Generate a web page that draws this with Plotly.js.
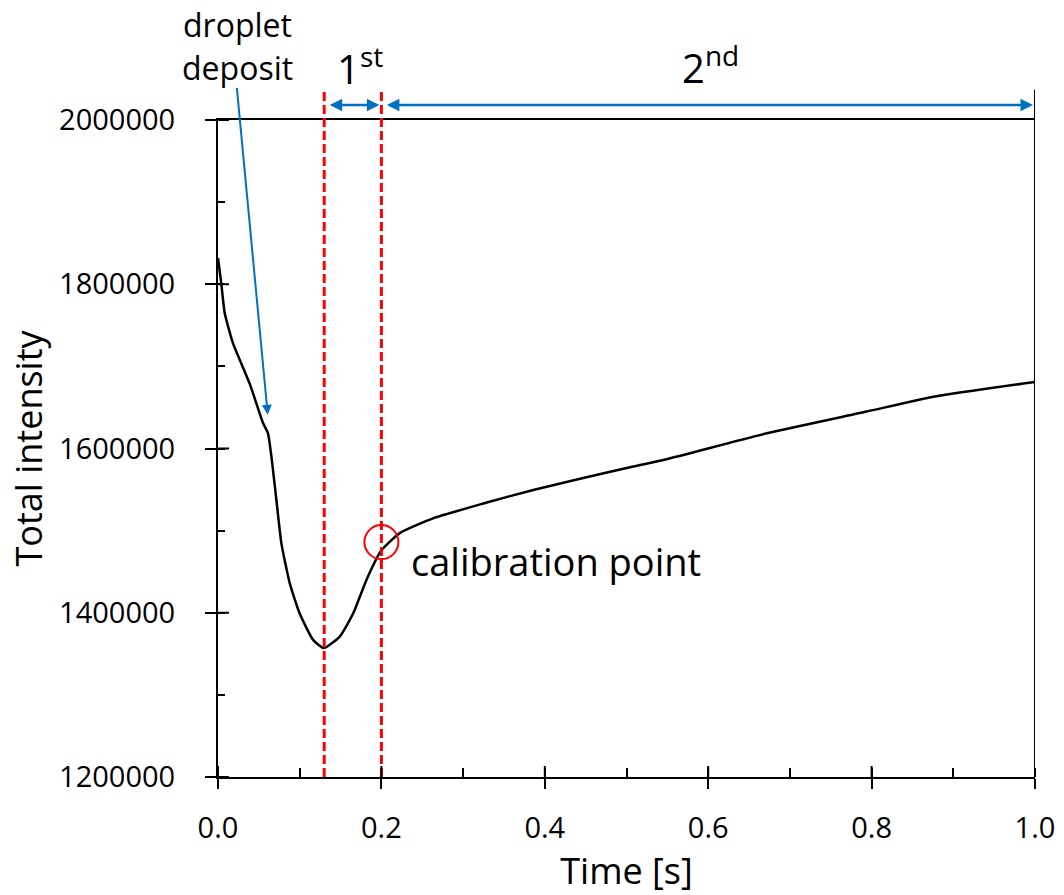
<!DOCTYPE html>
<html>
<head>
<meta charset="utf-8">
<script src="https://cdn.plot.ly/plotly-3.0.1.min.js"></script>
<style>html,body{margin:0;padding:0;background:#fff;}#chart{width:1064px;height:895px;}</style>
</head>
<body>
<div id="chart"></div>
<script>
// Data
const timeS = [0, 0.004, 0.0082, 0.0184, 0.0388, 0.0551, 0.0612, 0.0654, 0.0715, 0.0776, 0.0878, 0.1, 0.1164, 0.1295, 0.149, 0.1654, 0.1817, 0.2, 0.2225, 0.2633, 0.3246, 0.3858, 0.447, 0.5083, 0.549, 0.6716, 0.794, 0.8757, 1.0];
const totalIntensity = [1832000, 1801000, 1765000, 1728000, 1679000, 1631000, 1618500, 1590000, 1537000, 1484500, 1436000, 1399000, 1367000, 1357000, 1371000, 1399000, 1440000, 1476000, 1497000, 1515000, 1533000, 1549500, 1564000, 1578000, 1587000, 1618500, 1645000, 1663000, 1681000];
const phaseStart = 0.13;      // start of 1st phase
const calibrationT = 0.2;     // calibration point time
const calibrationV = 1486000; // calibration point intensity
const endT = 1.0;
const xTicks = [0, 0.2, 0.4, 0.6, 0.8, 1.0];
const yTicks = [1200000, 1400000, 1600000, 1800000, 2000000];

const blue = '#0070C0';
const red = '#FF0000';
const font = 'Open Sans, Calibri, Carlito, sans-serif';
const arrowYPaper = 1.0228;

const traces = [{
  x: timeS, y: totalIntensity, type: 'scatter', mode: 'lines',
  line: {color: '#000', width: 2.5, shape: 'spline', smoothing: 0.5},
  hoverinfo: 'skip', showlegend: false
}];

// inner halves of the major ticks (major ticks cross the axis line)
const innerTicks = xTicks.map(v => ({type: 'line', xref: 'x', yref: 'paper', ysizemode: 'pixel', yanchor: 0, x0: v, x1: v, y0: 0, y1: 11, line: {color: '#000', width: 2}}))
  .concat(yTicks.map(v => ({type: 'line', xref: 'paper', yref: 'y', xsizemode: 'pixel', xanchor: 0, x0: 0, x1: 11, y0: v, y1: v, line: {color: '#000', width: 2}})));

const layout = {
  width: 1064, height: 895,
  margin: {l: 218, r: 29, t: 120, b: 118},
  paper_bgcolor: '#fff', plot_bgcolor: '#fff',
  font: {family: font, color: '#000', size: 30},
  showlegend: false,
  xaxis: {
    range: [0, 1], tickvals: xTicks, tickformat: '.1f',
    showgrid: false, zeroline: false, showline: true, linecolor: '#000', linewidth: 2, mirror: true,
    ticks: 'outside', ticklen: 10, tickwidth: 2, tickcolor: '#000',
    tickfont: {size: 29, family: font}, ticklabelstandoff: 14,
    minor: {dtick: 0.1, ticks: 'inside', ticklen: 9, tickwidth: 2, tickcolor: '#000', showgrid: false},
    title: {text: 'Time [s]', font: {size: 36, family: font}, standoff: 12},
    fixedrange: true
  },
  yaxis: {
    range: [1200000, 2000000], tickvals: yTicks, tickformat: 'd',
    showgrid: false, zeroline: false, showline: true, linecolor: '#000', linewidth: 2,
    ticks: 'outside', ticklen: 11, tickwidth: 2, tickcolor: '#000',
    tickfont: {size: 29, family: font}, ticklabelstandoff: 24,
    minor: {dtick: 100000, ticks: 'inside', ticklen: 7, tickwidth: 2, tickcolor: '#000', showgrid: false},
    title: {text: 'Total intensity', font: {size: 36, family: font}, standoff: 6},
    fixedrange: true
  },
  shapes: [
    {type: 'line', xref: 'x', yref: 'paper', x0: phaseStart, x1: phaseStart, y0: 0, y1: 1.046, line: {color: red, width: 3, dash: '9px,4px'}},
    {type: 'line', xref: 'x', yref: 'paper', x0: calibrationT, x1: calibrationT, y0: 0, y1: 1.046, line: {color: red, width: 3, dash: '9px,4px'}},
    {type: 'line', xref: 'x', yref: 'paper', x0: endT, x1: endT, y0: 0, y1: 1.046, line: {color: '#000', width: 2}},
    {type: 'circle', xref: 'x', yref: 'y', xsizemode: 'pixel', ysizemode: 'pixel', xanchor: calibrationT, yanchor: calibrationV, x0: -17, x1: 17, y0: -17, y1: 17, line: {color: red, width: 2}}
  ].concat(innerTicks),
  annotations: [
    // 1st span arrow
    {x: calibrationT, y: arrowYPaper, xref: 'x', yref: 'paper', ax: phaseStart, ay: 0, axref: 'x', ayref: 'pixel', text: '', showarrow: true, arrowhead: 2, startarrowhead: 2, arrowside: 'end+start', arrowsize: 1, startarrowsize: 1, arrowwidth: 2.5, arrowcolor: blue, standoff: 2, startstandoff: 4},
    // 2nd span arrow
    {x: endT, y: arrowYPaper, xref: 'x', yref: 'paper', ax: calibrationT, ay: 0, axref: 'x', ayref: 'pixel', text: '', showarrow: true, arrowhead: 2, startarrowhead: 2, arrowside: 'end+start', arrowsize: 1, startarrowsize: 1, arrowwidth: 2.5, arrowcolor: blue, standoff: 2, startstandoff: 4},
    // droplet deposit arrow
    {x: 0.0609, y: 1641000, xref: 'x', yref: 'y', ax: 0.0229, ay: 2041000, axref: 'x', ayref: 'y', text: '', showarrow: true, arrowhead: 2, arrowsize: 1, arrowwidth: 2, arrowcolor: blue},
    {x: 0.0244, y: 1.1454, xref: 'x', yref: 'paper', text: 'droplet', showarrow: false, font: {size: 32, family: font}, xanchor: 'center', yanchor: 'middle'},
    {x: 0.0244, y: 1.0799, xref: 'x', yref: 'paper', text: 'deposit', showarrow: false, font: {size: 32, family: font}, xanchor: 'center', yanchor: 'middle'},
    {x: 0.174, y: 1.082, xref: 'x', yref: 'paper', text: '1<sup>st</sup>', showarrow: false, font: {size: 40, family: font}, xanchor: 'center', yanchor: 'middle'},
    {x: 0.6025, y: 1.083, xref: 'x', yref: 'paper', text: '2<sup>nd</sup>', showarrow: false, font: {size: 40, family: font}, xanchor: 'center', yanchor: 'middle'},
    {x: 0.234, y: 1463000, xref: 'x', yref: 'y', text: 'calibration point', showarrow: false, font: {size: 38, family: font}, xanchor: 'left', yanchor: 'middle'}
  ]
};

Plotly.newPlot('chart', traces, layout, {staticPlot: true, displayModeBar: false});
</script>
</body>
</html>
